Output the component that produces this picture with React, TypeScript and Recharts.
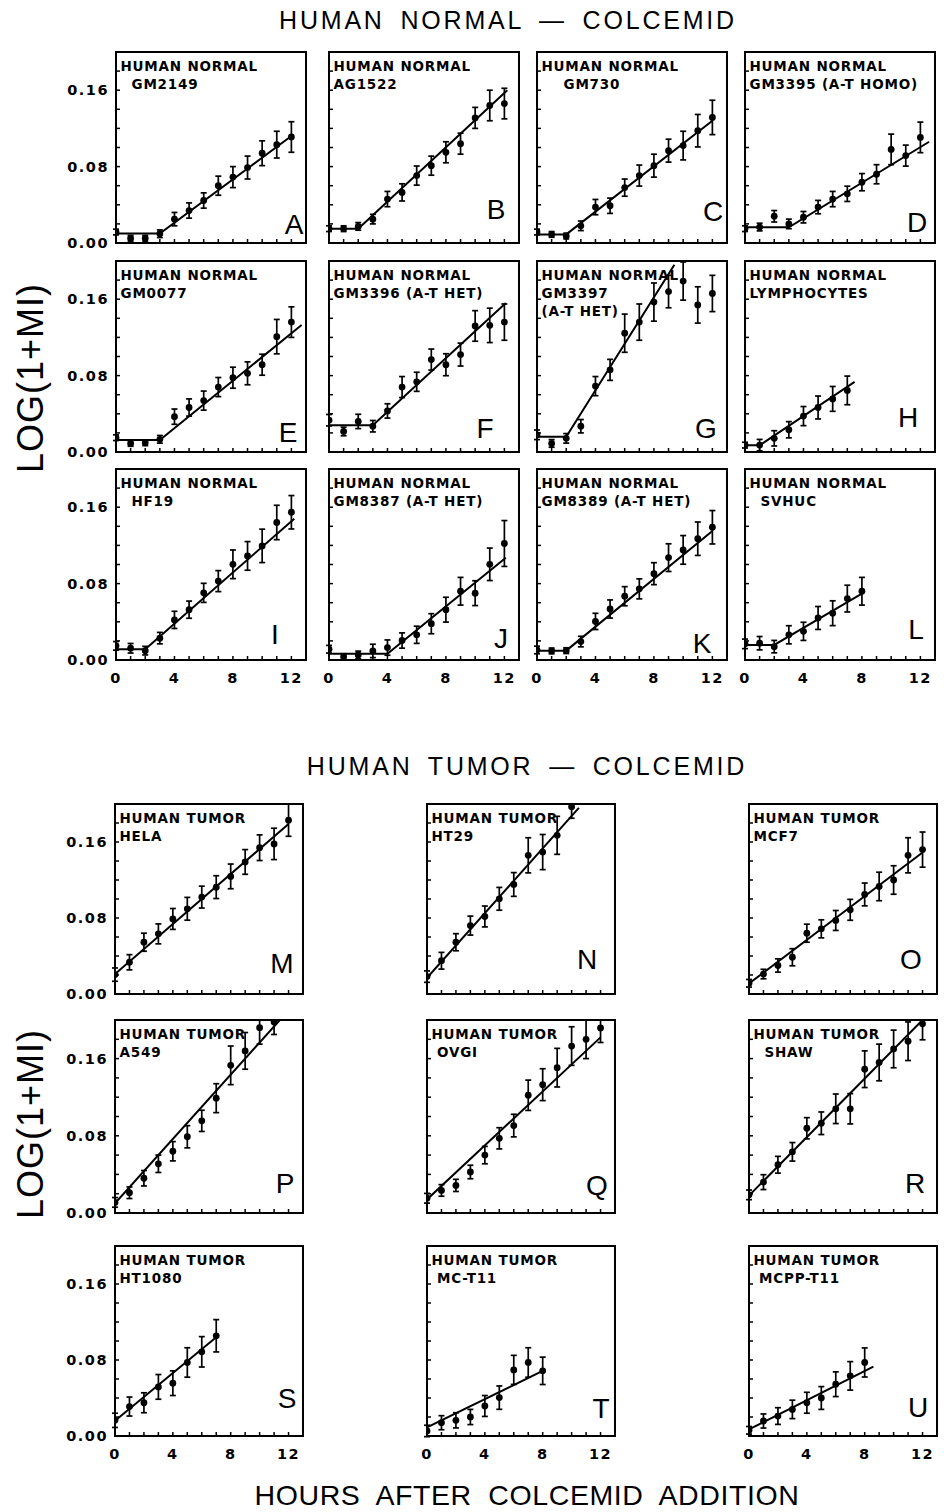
import React from 'react';
import { ComposedChart, Scatter, XAxis, YAxis, ErrorBar, ReferenceArea } from 'recharts';

// hours after colcemid addition (one reading per hour)
const HOURS = [0, 1, 2, 3, 4, 5, 6, 7, 8, 9, 10, 11, 12];
const X_TICKS = [0, 1, 2, 3, 4, 5, 6, 7, 8, 9, 10, 11, 12];
const X_LABELS = [0, 4, 8, 12];
const Y_TICKS = [0, 0.02, 0.04, 0.06, 0.08, 0.1, 0.12, 0.14, 0.16, 0.18];
const Y_LABELS = ['0.00', '0.08', '0.16'];

// ---- human normal ----
const A_VAL = [0.0115, 0.005, 0.005, 0.0097, 0.025, 0.034, 0.0445, 0.06, 0.069, 0.079, 0.094, 0.103, 0.111];
const A_ERR = [0.003, 0.003, 0.003, 0.004, 0.007, 0.008, 0.008, 0.01, 0.011, 0.012, 0.013, 0.014, 0.016];
const A_FIT = [[0, 0.01], [3, 0.01], [12, 0.112]];

const B_VAL = [0.015, 0.015, 0.0174, 0.025, 0.046, 0.053, 0.0706, 0.081, 0.095, 0.104, 0.131, 0.144, 0.146];
const B_ERR = [0.003, 0.003, 0.004, 0.005, 0.008, 0.009, 0.01, 0.01, 0.011, 0.011, 0.011, 0.016, 0.016];
const B_FIT = [[0, 0.015], [2, 0.015], [12.2, 0.16]];

const C_VAL = [0.0115, 0.009, 0.0073, 0.018, 0.0376, 0.039, 0.058, 0.0706, 0.081, 0.0967, 0.102, 0.1176, 0.1315];
const C_ERR = [0.003, 0.003, 0.003, 0.005, 0.008, 0.008, 0.009, 0.011, 0.012, 0.012, 0.015, 0.017, 0.018];
const C_FIT = [[0, 0.009], [2, 0.009], [12, 0.128]];

const D_VAL = [0.015, 0.0167, 0.028, 0.02, 0.027, 0.0376, 0.046, 0.0515, 0.0637, 0.072, 0.098, 0.0915, 0.1106];
const D_ERR = [0.003, 0.004, 0.006, 0.005, 0.006, 0.007, 0.008, 0.008, 0.009, 0.01, 0.016, 0.011, 0.016];
const D_FIT = [[0, 0.0165], [3, 0.0165], [12.6, 0.106]];

const E_VAL = [0.015, 0.009, 0.0097, 0.0133, 0.037, 0.0466, 0.0538, 0.068, 0.0778, 0.0824, 0.0914, 0.1208, 0.136];
const E_ERR = [0.003, 0.003, 0.003, 0.004, 0.008, 0.009, 0.01, 0.01, 0.011, 0.012, 0.011, 0.018, 0.016];
const E_FIT = [[0, 0.0125], [3, 0.0125], [12.7, 0.133]];

const F_VAL = [0.0333, 0.0215, 0.032, 0.027, 0.043, 0.068, 0.0735, 0.0968, 0.0914, 0.102, 0.132, 0.1326, 0.136];
const F_ERR = [0.006, 0.0045, 0.0075, 0.006, 0.0075, 0.011, 0.01, 0.011, 0.0115, 0.012, 0.016, 0.018, 0.019];
const F_FIT = [[0, 0.028], [3, 0.028], [12.1, 0.156]];

const G_VAL = [0.018, 0.009, 0.0143, 0.027, 0.069, 0.086, 0.1244, 0.136, 0.157, 0.168, 0.179, 0.154, 0.166];
const G_ERR = [0.005, 0.004, 0.005, 0.007, 0.01, 0.011, 0.02, 0.019, 0.02, 0.017, 0.02, 0.019, 0.019];
const G_FIT = [[0, 0.016], [2, 0.016], [9.4, 0.196]];

const H_VAL = [0.0072, 0.0072, 0.0143, 0.0233, 0.0376, 0.0466, 0.0556, 0.0645];
const H_ERR = [0.003, 0.006, 0.008, 0.0085, 0.01, 0.012, 0.013, 0.015];
const H_FIT = [[0, 0.007], [1, 0.007], [7.5, 0.0735]];

const I_VAL = [0.0148, 0.0123, 0.0098, 0.0229, 0.042, 0.0527, 0.0703, 0.0826, 0.1002, 0.109, 0.1195, 0.144, 0.1547];
const I_ERR = [0.0045, 0.005, 0.0045, 0.006, 0.009, 0.009, 0.01, 0.011, 0.015, 0.015, 0.0175, 0.018, 0.0175];
const I_FIT = [[0, 0.0113], [2, 0.0113], [12.2, 0.148]];

const J_VAL = [0.0113, 0.0035, 0.0053, 0.0095, 0.013, 0.0204, 0.0264, 0.038, 0.0527, 0.072, 0.07, 0.1002, 0.122];
const J_ERR = [0.004, 0.003, 0.004, 0.007, 0.008, 0.008, 0.009, 0.0105, 0.013, 0.0145, 0.013, 0.017, 0.024];
const J_FIT = [[0, 0.0065], [4, 0.0065], [12.1, 0.107]];

const K_VAL = [0.0105, 0.0095, 0.0098, 0.0193, 0.0404, 0.0534, 0.0668, 0.0745, 0.0904, 0.1072, 0.1153, 0.127, 0.139];
const K_ERR = [0.004, 0.003, 0.003, 0.0055, 0.0085, 0.0095, 0.01, 0.0105, 0.0115, 0.0145, 0.015, 0.0175, 0.0175];
const K_FIT = [[0, 0.0098], [2, 0.0098], [12, 0.135]];

const L_VAL = [0.0169, 0.0176, 0.014, 0.0264, 0.03, 0.044, 0.049, 0.0643, 0.072];
const L_ERR = [0.005, 0.007, 0.0065, 0.0095, 0.0095, 0.012, 0.013, 0.014, 0.0145];
const L_FIT = [[0, 0.0158], [2, 0.0158], [8, 0.0696]];

// ---- human tumor ----
const M_VAL = [0.0204, 0.0334, 0.0545, 0.0633, 0.079, 0.0897, 0.102, 0.1125, 0.1238, 0.139, 0.154, 0.158, 0.183];
const M_ERR = [0.007, 0.008, 0.0095, 0.0105, 0.011, 0.012, 0.0115, 0.012, 0.013, 0.013, 0.0135, 0.0165, 0.017];
const M_FIT = [[0, 0.021], [12, 0.179]];

const N_VAL = [0.0183, 0.035, 0.0545, 0.072, 0.0816, 0.1002, 0.1153, 0.146, 0.1494, 0.167, 0.197];
const N_ERR = [0.006, 0.0088, 0.009, 0.01, 0.011, 0.012, 0.0125, 0.0185, 0.0185, 0.02, 0.012];
const N_FIT = [[0, 0.017], [10.5, 0.196]];

const O_VAL = [0.0113, 0.021, 0.03, 0.0387, 0.064, 0.0686, 0.0774, 0.0886, 0.1048, 0.1132, 0.12, 0.146, 0.152];
const O_ERR = [0.004, 0.005, 0.007, 0.009, 0.0095, 0.0095, 0.0105, 0.011, 0.012, 0.015, 0.015, 0.0185, 0.0185];
const O_FIT = [[0, 0.011], [12, 0.149]];

const P_VAL = [0.011, 0.021, 0.036, 0.051, 0.064, 0.079, 0.0955, 0.119, 0.153, 0.168, 0.192, 0.198];
const P_ERR = [0.005, 0.006, 0.008, 0.009, 0.01, 0.0115, 0.011, 0.015, 0.02, 0.019, 0.017, 0.013];
const P_FIT = [[0, 0.01], [11.4, 0.2]];

const Q_VAL = [0.0153, 0.0234, 0.0286, 0.0425, 0.06, 0.0774, 0.0906, 0.122, 0.133, 0.1506, 0.173, 0.18, 0.1917];
const Q_ERR = [0.005, 0.006, 0.0063, 0.007, 0.009, 0.011, 0.0117, 0.0157, 0.0165, 0.02, 0.02, 0.02, 0.015];
const Q_FIT = [[0, 0.014], [12, 0.182]];

const R_VAL = [0.0188, 0.032, 0.05, 0.0634, 0.0878, 0.093, 0.108, 0.108, 0.149, 0.156, 0.17, 0.178, 0.196];
const R_ERR = [0.005, 0.0077, 0.0087, 0.0096, 0.011, 0.0117, 0.0153, 0.0157, 0.019, 0.019, 0.0195, 0.02, 0.0165];
const R_FIT = [[0, 0.018], [12, 0.2]];

const S_VAL = [0.0165, 0.031, 0.035, 0.0517, 0.0556, 0.0774, 0.0886, 0.1055];
const S_ERR = [0.0075, 0.01, 0.0105, 0.013, 0.013, 0.0155, 0.016, 0.017];
const S_FIT = [[0, 0.016], [7, 0.104]];

const T_VAL = [0.0053, 0.014, 0.0165, 0.02, 0.0316, 0.0404, 0.0696, 0.0774, 0.0686];
const T_ERR = [0.006, 0.0074, 0.008, 0.008, 0.011, 0.0123, 0.0153, 0.0155, 0.0144];
const T_FIT = [[0, 0.009], [8, 0.0686]];

const U_VAL = [0.006, 0.0158, 0.021, 0.028, 0.035, 0.04, 0.0545, 0.0633, 0.0774];
const U_ERR = [0.004, 0.0074, 0.0088, 0.0097, 0.011, 0.012, 0.013, 0.015, 0.0153];
const U_FIT = [[0, 0.007], [8.6, 0.073]];

const NORMAL = [
  { id: 'A', lines: ['HUMAN NORMAL', '  GM2149'], values: A_VAL, errors: A_ERR, fit: A_FIT },
  { id: 'B', lines: ['HUMAN NORMAL', 'AG1522'], values: B_VAL, errors: B_ERR, fit: B_FIT },
  { id: 'C', lines: ['HUMAN NORMAL', '    GM730'], values: C_VAL, errors: C_ERR, fit: C_FIT },
  { id: 'D', lines: ['HUMAN NORMAL', 'GM3395 (A-T HOMO)'], values: D_VAL, errors: D_ERR, fit: D_FIT },
  { id: 'E', lines: ['HUMAN NORMAL', 'GM0077'], values: E_VAL, errors: E_ERR, fit: E_FIT },
  { id: 'F', lines: ['HUMAN NORMAL', 'GM3396 (A-T HET)'], values: F_VAL, errors: F_ERR, fit: F_FIT },
  { id: 'G', lines: ['HUMAN NORMAL', 'GM3397', '(A-T HET)'], values: G_VAL, errors: G_ERR, fit: G_FIT },
  { id: 'H', lines: ['HUMAN NORMAL', 'LYMPHOCYTES'], values: H_VAL, errors: H_ERR, fit: H_FIT },
  { id: 'I', lines: ['HUMAN NORMAL', '  HF19'], values: I_VAL, errors: I_ERR, fit: I_FIT },
  { id: 'J', lines: ['HUMAN NORMAL', 'GM8387 (A-T HET)'], values: J_VAL, errors: J_ERR, fit: J_FIT },
  { id: 'K', lines: ['HUMAN NORMAL', 'GM8389 (A-T HET)'], values: K_VAL, errors: K_ERR, fit: K_FIT },
  { id: 'L', lines: ['HUMAN NORMAL', '  SVHUC'], values: L_VAL, errors: L_ERR, fit: L_FIT },
];

const TUMOR = [
  { id: 'M', lines: ['HUMAN TUMOR', 'HELA'], values: M_VAL, errors: M_ERR, fit: M_FIT },
  { id: 'N', lines: ['HUMAN TUMOR', 'HT29'], values: N_VAL, errors: N_ERR, fit: N_FIT },
  { id: 'O', lines: ['HUMAN TUMOR', 'MCF7'], values: O_VAL, errors: O_ERR, fit: O_FIT },
  { id: 'P', lines: ['HUMAN TUMOR', 'A549'], values: P_VAL, errors: P_ERR, fit: P_FIT },
  { id: 'Q', lines: ['HUMAN TUMOR', ' OVGI'], values: Q_VAL, errors: Q_ERR, fit: Q_FIT },
  { id: 'R', lines: ['HUMAN TUMOR', '  SHAW'], values: R_VAL, errors: R_ERR, fit: R_FIT },
  { id: 'S', lines: ['HUMAN TUMOR', 'HT1080'], values: S_VAL, errors: S_ERR, fit: S_FIT },
  { id: 'T', lines: ['HUMAN TUMOR', ' MC-T11'], values: T_VAL, errors: T_ERR, fit: T_FIT },
  { id: 'U', lines: ['HUMAN TUMOR', ' MCPP-T11'], values: U_VAL, errors: U_ERR, fit: U_FIT },
];

// layout (plot-box pixels)
const NORMAL_COLS = [116, 329, 537, 745];
const NORMAL_ROWS = [52, 261, 469];
const NORMAL_W = 190;
const NORMAL_H = 191;
const TUMOR_COLS = [115, 427, 749];
const TUMOR_ROWS = [804, 1020, 1246];
const TUMOR_W = 188;
const TUMOR_H = [190, 193, 190];

// big letter placement: [centre x from plot left, baseline from plot bottom]
const LETTER_POS: Record<string, [number, number]> = {
  A: [178, -9], B: [167, -24], C: [176, -22], D: [172, -11],
  E: [172, -10], F: [156, -14], G: [169, -14], H: [163, -25],
  I: [159, -16], J: [172, -12], K: [165, -7], L: [171, -21],
  M: [167, -21], N: [160, -25], O: [162, -25],
  P: [170, -20], Q: [170, -18], R: [166, -20],
  S: [172, -28], T: [174, -18], U: [169, -19],
};

const BOLD = "'DejaVu Sans', sans-serif";
const PLAIN = "'Liberation Sans', Arial, sans-serif";

// chart box around each plot; the axes own the room for their labels
const Y_AXIS_W = 60;
const X_AXIS_H = 30;
const ML = 70, MT = 10, MR = 10, MB = 34;

const renderXTick = (showLabel: boolean) => (props: any) => {
  const { x, y, payload } = props;
  const v = Number(payload.value);
  return (
    <g>
      {v > 0 && <line x1={x} x2={x} y1={y} y2={y - 4} stroke="#000" strokeWidth={1.5} />}
      {showLabel && X_LABELS.includes(v) && (
        <text x={x} y={y + 23} textAnchor="middle" fontFamily={BOLD} fontWeight="bold" fontSize={14.5} letterSpacing={1.5} fill="#000">
          {String(v)}
        </text>
      )}
    </g>
  );
};

const renderYTick = (showLabel: boolean) => (props: any) => {
  const { x, y, payload } = props;
  const v = Number(payload.value);
  const label = v.toFixed(2);
  return (
    <g>
      {v > 0 && <line x1={x} x2={x + 4} y1={y} y2={y} stroke="#000" strokeWidth={1.5} />}
      {showLabel && Y_LABELS.includes(label) && (
        <text x={x - 7} y={y + 5} textAnchor="end" fontFamily={BOLD} fontWeight="bold" fontSize={14.5} letterSpacing={1.5} fill="#000">
          {label}
        </text>
      )}
    </g>
  );
};

const Dot = (props: any) => <circle cx={props.cx} cy={props.cy} r={3.4} fill="#000" />;
const NoDot = () => <g />;

interface PanelProps {
  p: { id: string; lines: string[]; values: number[]; errors: number[]; fit: number[][] };
  left: number;
  top: number;
  w: number;
  h: number;
  showY: boolean;
  showX: boolean;
}

const Panel: React.FC<PanelProps> = ({ p, left, top, w, h, showY, showX }) => {
  const points = p.values.map((v, i) => ({ h: HOURS[i], v, e: p.errors[i] }));
  const fit = p.fit.map(([hx, v]) => ({ h: hx, v }));
  // error bars and fit lines that run past 0.20 are cut at the frame, as in the print
  return (
    <div style={{ position: 'absolute', left: left - ML, top: top - MT, clipPath: `inset(${MT - 1}px 0 0 0)` }}>
      <ComposedChart
        width={w + ML + MR}
        height={h + MT + MB}
        margin={{ top: MT, right: MR, bottom: MB - X_AXIS_H, left: ML - Y_AXIS_W }}
      >
        <XAxis
          type="number"
          dataKey="h"
          domain={[0, 13]}
          ticks={X_TICKS}
          interval={0}
          allowDataOverflow
          height={X_AXIS_H}
          tickSize={0}
          tickMargin={0}
          axisLine={false}
          tickLine={false}
          tick={renderXTick(showX)}
        />
        <YAxis
          type="number"
          dataKey="v"
          domain={[0, 0.2]}
          ticks={Y_TICKS}
          interval={0}
          allowDataOverflow
          width={Y_AXIS_W}
          tickSize={0}
          tickMargin={0}
          axisLine={false}
          tickLine={false}
          tick={renderYTick(showY)}
        />
        <ReferenceArea x1={0} x2={13} y1={0} y2={0.2} fillOpacity={0} stroke="#000" strokeWidth={2} ifOverflow="visible" />
        <Scatter data={fit} line={{ stroke: '#000', strokeWidth: 2 }} lineType="joint" shape={NoDot} isAnimationActive={false} />
        <Scatter data={points} shape={Dot} isAnimationActive={false}>
          <ErrorBar dataKey="e" direction="y" width={3} strokeWidth={1.7} stroke="#000" isAnimationActive={false} />
        </Scatter>
      </ComposedChart>
    </div>
  );
};

const PanelText: React.FC<{ id: string; lines: string[]; left: number; top: number; h: number }> = ({ id, lines, left, top, h }) => {
  const [lx, ly] = LETTER_POS[id];
  return (
    <g>
      {lines.map((t, i) => (
        <text
          key={i}
          x={left + 4.5}
          y={top + 19 + i * 18}
          xmlSpace="preserve"
          style={{ whiteSpace: 'pre' }}
          fontFamily={BOLD}
          fontWeight="bold"
          fontSize={13.5}
          letterSpacing={0.8}
          fill="#000"
        >
          {t}
        </text>
      ))}
      <text x={left + lx} y={top + h + ly} textAnchor="middle" fontFamily={PLAIN} fontSize={28} fill="#000">
        {id}
      </text>
    </g>
  );
};

export default function App() {
  const normal = NORMAL.map((p, i) => ({
    p,
    left: NORMAL_COLS[i % 4],
    top: NORMAL_ROWS[Math.floor(i / 4)],
    w: NORMAL_W,
    h: NORMAL_H,
    showY: i % 4 === 0,
    showX: Math.floor(i / 4) === 2,
  }));
  const tumor = TUMOR.map((p, i) => ({
    p,
    left: TUMOR_COLS[i % 3],
    top: TUMOR_ROWS[Math.floor(i / 3)],
    w: TUMOR_W,
    h: TUMOR_H[Math.floor(i / 3)],
    showY: i % 3 === 0,
    showX: Math.floor(i / 3) === 2,
  }));
  const all = normal.concat(tumor);

  return (
    <div style={{ position: 'absolute', left: 0, top: 0, width: 944, height: 1512, background: '#fff', overflow: 'hidden' }}>
      {all.map((c) => (
        <Panel key={c.p.id} {...c} />
      ))}
      <svg width={944} height={1512} style={{ position: 'absolute', left: 0, top: 0, pointerEvents: 'none' }}>
        <text x={508} y={29} textAnchor="middle" fontFamily={PLAIN} fontSize={25} letterSpacing={2.8} wordSpacing={6} fill="#000">
          HUMAN NORMAL — COLCEMID
        </text>
        <text x={527} y={775} textAnchor="middle" fontFamily={PLAIN} fontSize={25} letterSpacing={2.8} wordSpacing={6} fill="#000">
          HUMAN TUMOR — COLCEMID
        </text>
        <text x={527} y={1505} textAnchor="middle" fontFamily={PLAIN} fontSize={28.5} letterSpacing={0.6} wordSpacing={8} fill="#000">
          HOURS AFTER COLCEMID ADDITION
        </text>
        <text transform="translate(43 378) rotate(-90)" textAnchor="middle" fontFamily={PLAIN} fontSize={36} letterSpacing={1} fill="#000">
          LOG(1+MI)
        </text>
        <text transform="translate(43 1124) rotate(-90)" textAnchor="middle" fontFamily={PLAIN} fontSize={36} letterSpacing={1} fill="#000">
          LOG(1+MI)
        </text>
        {all.map((c) => (
          <PanelText key={c.p.id} id={c.p.id} lines={c.p.lines} left={c.left} top={c.top} h={c.h} />
        ))}
      </svg>
    </div>
  );
}
